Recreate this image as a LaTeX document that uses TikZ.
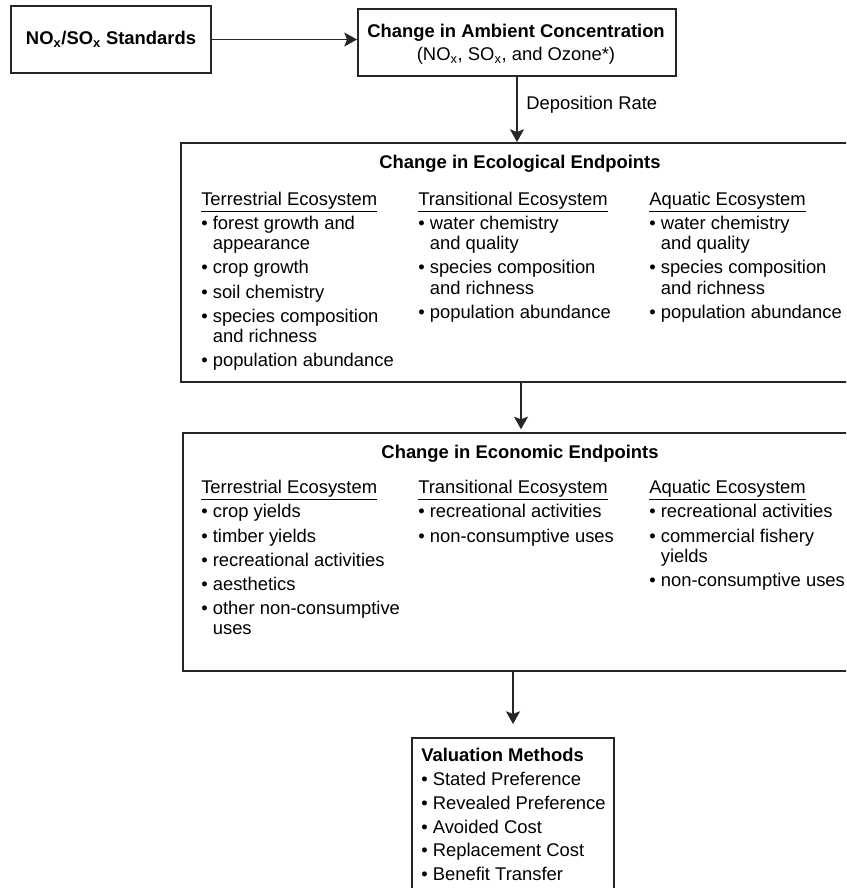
\documentclass[tikz,border=0pt]{standalone}
\usepackage{fontspec}
\setmainfont{Liberation Sans}
\usetikzlibrary{arrows.meta}
\newcommand{\itemb}{\textbullet\ }
\newcommand{\contb}{\phantom{\textbullet\ }}
\newcommand{\xs}{\textsubscript{x}}
\newcommand{\gp}{\\[2.95pt]}
\tikzset{
  box/.style={draw=black!85, line width=1.5pt, inner sep=0pt, rectangle, anchor=north west},
  conn/.style={draw=black!85, line width=1.3pt, -{Stealth[length=9.5pt,width=10.5pt,inset=2pt]}},
  col/.style={inner sep=0pt, anchor=base west, font=\fontsize{13.8}{15.15}\selectfont},
  ttl/.style={inner sep=0pt, anchor=base, font=\fontsize{13.8}{16}\selectfont\bfseries},
  lbl/.style={inner sep=0pt, anchor=west, font=\fontsize{13.8}{16}\selectfont},
}
\begin{document}
\begin{tikzpicture}[x=0.75pt,y=-0.75pt]
\useasboundingbox (0,0) rectangle (846,888);
\fill[white] (0,0) rectangle (846,888);
\clip (0,0) rectangle (846,888);

% top boxes
\node[box, minimum width=150pt, minimum height=50.25pt, font=\fontsize{13.8}{16}\selectfont\bfseries] (std) at (10,5) {NO\xs/SO\xs\ Standards};
\node[box, minimum width=238.5pt, minimum height=50.25pt] (amb) at (357,8) {};
\node[ttl] (ambT) at (516,37.2) {Change in Ambient Concentration};
\node[inner sep=0pt, anchor=base, font=\fontsize{13.8}{16}\selectfont] (ambS) at (516,60.5) {(NO\xs, SO\xs, and Ozone*)};

% ecological endpoints
\node[box, minimum width=510pt, minimum height=179.25pt] (eco) at (180,142) {};
\node[ttl] (ecoT) at (520,168.5) {Change in Ecological Endpoints};
\node[col] (ecoA) at (201,205.5) {\begin{tabular}[t]{@{}l@{}}\underline{Terrestrial Ecosystem}\gp
\itemb forest growth and\\ \contb appearance\gp
\itemb crop growth\gp
\itemb soil chemistry\gp
\itemb species composition\\ \contb and richness\gp
\itemb population abundance\end{tabular}};
\node[col] (ecoB) at (418,205.5) {\begin{tabular}[t]{@{}l@{}}\underline{Transitional Ecosystem}\gp
\itemb water chemistry\\ \contb and quality\gp
\itemb species composition\\ \contb and richness\gp
\itemb population abundance\end{tabular}};
\node[col] (ecoC) at (649,205.5) {\begin{tabular}[t]{@{}l@{}}\underline{Aquatic Ecosystem}\gp
\itemb water chemistry\\ \contb and quality\gp
\itemb species composition\\ \contb and richness\gp
\itemb population abundance\end{tabular}};

% economic endpoints
\node[box, minimum width=508.5pt, minimum height=178.5pt] (econ) at (182,432) {};
\node[ttl] (econT) at (520,458) {Change in Economic Endpoints};
\node[col] (econA) at (201,493.8) {\begin{tabular}[t]{@{}l@{}}\underline{Terrestrial Ecosystem}\gp
\itemb crop yields\gp
\itemb timber yields\gp
\itemb recreational activities\gp
\itemb aesthetics\gp
\itemb other non-consumptive\\ \contb uses\end{tabular}};
\node[col] (econB) at (418,493.8) {\begin{tabular}[t]{@{}l@{}}\underline{Transitional Ecosystem}\gp
\itemb recreational activities\gp
\itemb non-consumptive uses\end{tabular}};
\node[col] (econC) at (649,493.8) {\begin{tabular}[t]{@{}l@{}}\underline{Aquatic Ecosystem}\gp
\itemb recreational activities\gp
\itemb commercial fishery\\ \contb yields\gp
\itemb non-consumptive uses\end{tabular}};

% valuation methods
\node[box, minimum width=151.5pt, minimum height=122.25pt] (val) at (411,737) {};
\node[col, font=\fontsize{13.8}{17.9}\selectfont] (valT) at (421,761.5) {\begin{tabular}[t]{@{}l@{}}\textbf{Valuation Methods}\\
\itemb Stated Preference\\
\itemb Revealed Preference\\
\itemb Avoided Cost\\
\itemb Replacement Cost\\
\itemb Benefit Transfer\end{tabular}};

% connectors
\draw[conn] (std.east) -- (std.east -| amb.west);
\draw[conn] (amb.south) -- (amb.south |- eco.north);
\node[lbl] (dep) at (526,104.5) {Deposition Rate};
\draw[conn, shorten >=2pt] (eco.south) -- (eco.south |- econ.north);
\draw[conn, shorten >=9.75pt] (val.north |- econ.south) -- (val.north);
\end{tikzpicture}
\end{document}
